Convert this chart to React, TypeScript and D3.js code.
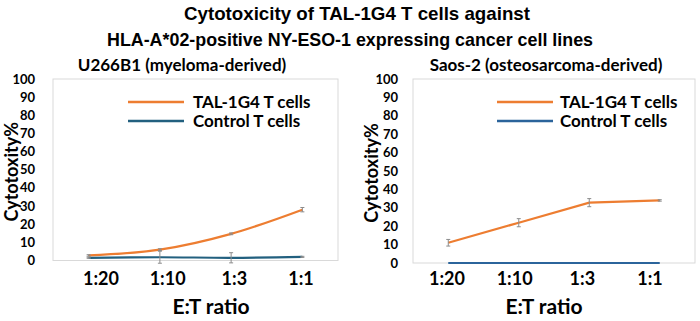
import React, { useEffect } from 'react';
import * as d3 from 'd3';

const ratios = ['1:20', '1:10', '1:3', '1:1'];
const yTicks = [0, 10, 20, 30, 40, 50, 60, 70, 80, 90, 100];

// U266B1 panel
const u266Tal = [2.8, 6.0, 14.7, 28.0];
const u266TalErr = [0.4, 0.5, 0.5, 1.2];
const u266Ctrl = [1.5, 1.8, 1.5, 2.0];
const u266CtrlErr = [0.3, 3.3, 2.8, 0.3];

// Saos-2 panel
const saosTal = [11.0, 21.9, 32.8, 34.0];
const saosTalErr = [1.8, 2.2, 2.2, 0.4];
const saosCtrl = [0, 0, 0, 0];
const saosCtrlErr = [0, 0, 0, 0];

const seriesNames = ['TAL-1G4 T cells', 'Control T cells'];

const ORANGE = '#ED7D31';
const FONT = 'Lato, "Open Sans", sans-serif';
const TITLE_FONT = '"Liberation Sans Narrow", "Arial Narrow", "Liberation Sans", sans-serif';

const panels = [
  {
    title: 'U266B1 (myeloma-derived)',
    tal: u266Tal, talErr: u266TalErr, ctrl: u266Ctrl, ctrlErr: u266CtrlErr,
    ctrlColor: '#22607F',
    curve: d3.curveCatmullRom,
    box: { x0: 53, x1: 338, y0: 79, y1: 260.5 },
    labelRange: [101, 301],
    titleX: 182, yTitleX: 12, tickRight: 35, xTitleX: 211,
    legendX: 128, legendTextX: 193,
  },
  {
    title: 'Saos-2 (osteosarcoma-derived)',
    tal: saosTal, talErr: saosTalErr, ctrl: saosCtrl, ctrlErr: saosCtrlErr,
    ctrlColor: '#2B649B',
    curve: d3.curveLinear,
    box: { x0: 413, x1: 695, y0: 79, y1: 263 },
    labelRange: [447, 650],
    titleX: 546, yTitleX: 372, tickRight: 398, xTitleX: 544,
    legendX: 497, legendTextX: 560,
  },
];

function Panel({ p }) {
  const { box } = p;
  const x = d3.scaleBand().domain(ratios).range([box.x0, box.x1]);
  const xl = d3.scalePoint().domain(ratios).range(p.labelRange);
  const y = d3.scaleLinear().domain([0, 100]).range([box.y1, box.y0]);
  const cx = (d) => x(d) + x.bandwidth() / 2;

  const line = d3.line().x((d, i) => cx(ratios[i])).y((d) => y(d)).curve(p.curve);

  const series = [
    { vals: p.tal, err: p.talErr, color: ORANGE },
    { vals: p.ctrl, err: p.ctrlErr, color: p.ctrlColor },
  ];

  return (
    <g>
      <text x={p.titleX} y={71} textAnchor="middle" fontFamily={FONT} fontWeight="bold" fontSize={17}>
        {p.title}
      </text>
      <rect x={box.x0} y={box.y0} width={box.x1 - box.x0} height={box.y1 - box.y0} fill="none" stroke="#d9d9d9" strokeWidth={1} />
      {yTicks.map((t) => (
        <text key={t} x={p.tickRight} y={y(t)} dy="0.35em" textAnchor="end" fontFamily={FONT} fontWeight="bold" fontSize={13}>
          {t}
        </text>
      ))}
      {ratios.map((r) => (
        <text key={r} x={xl(r)} y={279} dy="0.35em" textAnchor="middle" fontFamily={FONT} fontWeight="bold" fontSize={18}>
          {r}
        </text>
      ))}
      <text x={p.xTitleX} y={307} dy="0.35em" textAnchor="middle" fontFamily={FONT} fontWeight="bold" fontSize={21}>
        E:T ratio
      </text>
      <text transform={`translate(${p.yTitleX},${(box.y0 + box.y1) / 2 + 2}) rotate(-90)`} dy="0.35em" textAnchor="middle" fontFamily={FONT} fontWeight="bold" fontSize={18}>
        Cytotoxity%
      </text>
      {series.map((s, k) => (
        <path key={k} d={line(s.vals)} fill="none" stroke={s.color} strokeWidth={2.2} />
      ))}
      {series.map((s, k) =>
        s.vals.map((v, i) => {
          if (!s.err[i]) return null;
          const px = cx(ratios[i]);
          return (
            <g key={`${k}-${i}`} stroke="#8c8c8c" strokeWidth={1}>
              <line x1={px} x2={px} y1={y(v - s.err[i])} y2={y(v + s.err[i])} />
              <line x1={px - 2} x2={px + 2} y1={y(v - s.err[i])} y2={y(v - s.err[i])} />
              <line x1={px - 2} x2={px + 2} y1={y(v + s.err[i])} y2={y(v + s.err[i])} />
            </g>
          );
        })
      )}
      {series.map((s, k) => (
        <g key={k}>
          <line x1={p.legendX} x2={p.legendX + 56} y1={102 + k * 19} y2={102 + k * 19} stroke={s.color} strokeWidth={2.5} />
          <text x={p.legendTextX} y={102 + k * 19} dy="0.35em" fontFamily={FONT} fontWeight="bold" fontSize={17}>
            {seriesNames[k]}
          </text>
        </g>
      ))}
    </g>
  );
}

export default function App() {
  useEffect(() => {
    document.body.style.margin = '0';
  }, []);

  return (
    <svg width={700} height={321} style={{ display: 'block', background: '#fff' }}>
      <text x={357} y={20} textAnchor="middle" fontFamily={TITLE_FONT} fontWeight="bold" fontSize={19} textLength={346} lengthAdjust="spacingAndGlyphs">
        Cytotoxicity of TAL-1G4 T cells against
      </text>
      <text x={350} y={46} textAnchor="middle" fontFamily={TITLE_FONT} fontWeight="bold" fontSize={19} textLength={486} lengthAdjust="spacingAndGlyphs">
        HLA-A*02-positive NY-ESO-1 expressing cancer cell lines
      </text>
      {panels.map((p, i) => (
        <Panel key={i} p={p} />
      ))}
    </svg>
  );
}
